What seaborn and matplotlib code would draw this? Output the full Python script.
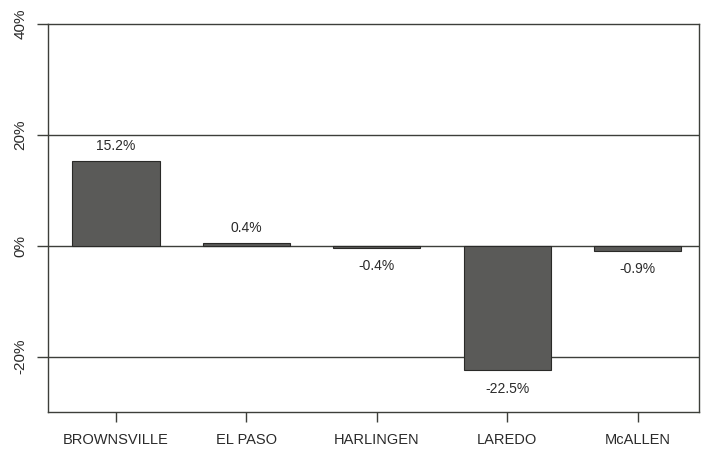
import matplotlib
matplotlib.use("Agg")
import matplotlib.pyplot as plt
import seaborn as sns
import pandas as pd

cities = ["BROWNSVILLE", "EL PASO", "HARLINGEN", "LAREDO", "McALLEN"]
changes = [15.2, 0.4, -0.4, -22.5, -0.9]
yticks = [-20, 0, 20, 40]
ytick_labels = ["-20%", "0%", "20%", "40%"]

df = pd.DataFrame({"city": cities, "change": changes})

sns.set_theme(style="white")
plt.rcParams["font.family"] = ["Liberation Sans", "DejaVu Sans"]

fig = plt.figure(figsize=(7.08, 4.49), dpi=100)
ax = fig.add_axes([48/708, 1-412/449, 651/708, 388/449])

line_col = "#3d3f3a"
text_col = "#2a2a2a"
sns.barplot(data=df, x="city", y="change", color="#5a5a58", saturation=1,
            width=0.67, edgecolor="#2a2a28", linewidth=0.8, ax=ax, zorder=3)

for y in [-20, 0, 20]:
    ax.axhline(y, color=line_col, lw=1.0, zorder=1)

ax.set_ylim(-30, 40)
ax.set_xlim(-0.52, 4.47)
ax.set_yticks(yticks)
ax.set_yticklabels(ytick_labels, rotation=90, va="center", fontsize=11, color=text_col)
ax.tick_params(axis="y", length=8, width=1, color=line_col, pad=7, left=True)
ax.tick_params(axis="x", length=7, width=1, color=line_col, pad=8, bottom=True)
for lbl in ax.get_xticklabels():
    lbl.set_fontsize(10.5)
    lbl.set_color(text_col)
ax.set_xlabel("")
ax.set_ylabel("")
for s in ax.spines.values():
    s.set_color(line_col)
    s.set_linewidth(1.0)

for i, v in enumerate(changes):
    if v >= 0:
        ax.annotate(f"{v:.1f}%", (i, v), xytext=(0, 6), textcoords="offset points",
                    ha="center", va="bottom", fontsize=10, color=text_col)
    else:
        ax.annotate(f"{v:.1f}%", (i, v), xytext=(0, -8), textcoords="offset points",
                    ha="center", va="top", fontsize=10, color=text_col)

fig.savefig("out.png", dpi=100, facecolor="white")
